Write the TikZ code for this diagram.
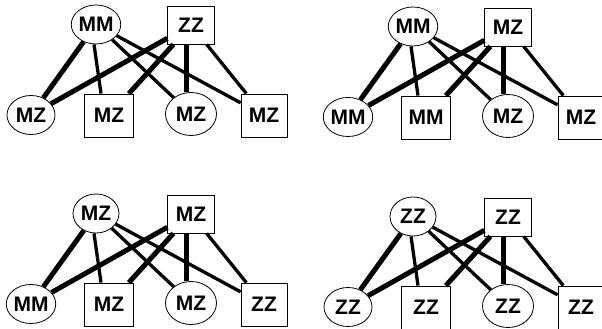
\documentclass[tikz,border=0pt]{standalone}
\usepackage{fontspec}
\setmainfont{Liberation Sans}
\usetikzlibrary{shapes.geometric}

\tikzset{
  lbl/.style={font=\bfseries\fontsize{21}{21}\selectfont, inner sep=0pt, draw=black, line width=0.8pt},
  oval/.style={lbl, ellipse},
  sq/.style={lbl, rectangle},
  heavy/.style={line width=5pt},
  light/.style={line width=3.3pt},
  % one four-by-two panel: top oval, top square, then the bottom row left to right
  pics/panel/.style n args={6}{code={
    \node[oval, minimum width=46pt, minimum height=39pt] (t1) at (96,24.5) {#1};
    \node[sq, minimum width=46.5pt, minimum height=38pt] (t2) at (191,25) {#2};
    \node[oval, minimum width=48pt, minimum height=39pt] (b1) at (31,115) {#3};
    \node[sq, minimum width=49pt, minimum height=43pt] (b2) at (109,115.5) {#4};
    \node[oval, minimum width=51pt, minimum height=43pt] (b3) at (191,114) {#5};
    \node[sq, minimum width=46pt, minimum height=43pt] (b4) at (264,115.5) {#6};
    \draw[heavy] (t1) -- (b1);
    \draw[light] ([xshift=-2pt]t1.south) -- ([xshift=-8pt]b2.north);
    \draw[light] (t1) -- (b3);
    \draw[light] (t1) -- (b4);
    \draw[heavy] (t2) -- (b1);
    \draw[heavy] (t2) -- (b2);
    \draw[heavy] ([xshift=-5pt]t2.south) -- ([xshift=-5pt]b3.north);
    \draw[light] (t2) -- (b4);
  }}
}

\begin{document}
\begin{tikzpicture}[x=1pt, y=-1pt]
  \useasboundingbox (0,0) rectangle (602,329);
  \pic (pa-) at (0,0)     {panel={MM}{ZZ}{MZ}{MZ}{MZ}{MZ}};
  \pic (pb-) at (317,2)   {panel={MM}{MZ}{MM}{MM}{MZ}{MZ}};
  \pic (pc-) at (0,189)   {panel={MZ}{MZ}{MM}{MZ}{MZ}{ZZ}};
  \pic (pd-) at (317,192) {panel={ZZ}{ZZ}{ZZ}{ZZ}{ZZ}{ZZ}};
\end{tikzpicture}
\end{document}
